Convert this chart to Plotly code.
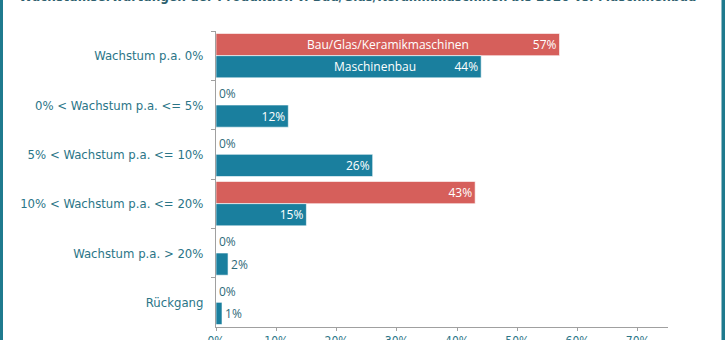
import plotly.graph_objects as go

# Growth expectation buckets (top to bottom)
categories = [
    "Wachstum p.a. 0%",
    "0% < Wachstum p.a. <= 5%",
    "5% < Wachstum p.a. <= 10%",
    "10% < Wachstum p.a. <= 20%",
    "Wachstum p.a. > 20%",
    "Rückgang",
]
series_names = ["Bau/Glas/Keramikmaschinen", "Maschinenbau"]
bau_glas_keramik = [57, 0, 0, 43, 0, 0]
maschinenbau = [44, 12, 26, 15, 2, 1]
x_ticks = [0, 10, 20, 30, 40, 50, 60, 70]
x_tick_labels = [f"{t}%" for t in x_ticks]
title_text = "Wachstumserwartungen der Produktion v. Bau/Glas/Keramikmaschinen bis 2020 vs. Maschinenbau"

RED = "#d65f5b"
TEAL = "#1a7f9e"
TEXT_TEAL = "#2b7587"
LABEL_DARK = "#2f6a79"
FRAME = "#1f7a8e"

W, H = 725, 340
ML, MR, MT, MB = 216, 57, 31, 13


def positions(values):
    return ["inside" if v >= 10 else "outside" for v in values]


def text_colors(values):
    return ["white" if v >= 10 else LABEL_DARK for v in values]


fig = go.Figure()
for name, vals, color in [(series_names[0], bau_glas_keramik, RED),
                          (series_names[1], maschinenbau, TEAL)]:
    fig.add_trace(go.Bar(
        name=name,
        y=categories,
        x=vals,
        orientation="h",
        marker=dict(color=color, line=dict(color="white", width=0.6)),
        text=[f"{v}%" for v in vals],
        textposition=positions(vals),
        insidetextanchor="end",
        constraintext="none",
        textfont=dict(family="Open Sans", size=12, color=text_colors(vals)),
        cliponaxis=False,
        hoverinfo="skip",
    ))

# Series names written into the bars of the first bucket
annotations = [
    dict(x=bau_glas_keramik[0] * 0.5, y=categories[0], yshift=11,
         xref="x", yref="y", text=series_names[0], showarrow=False,
         font=dict(family="Open Sans", size=12, color="white")),
    dict(x=maschinenbau[0] * 0.6, y=categories[0], yshift=-11,
         xref="x", yref="y", text=series_names[1], showarrow=False,
         font=dict(family="Open Sans", size=12, color="white")),
]

plot_h = H - MT - MB
plot_w = W - ML - MR
annotations.append(dict(
    x=(358 - ML) / plot_w, y=1 + (MT - 6) / plot_h, xref="paper", yref="paper",
    xanchor="center", yanchor="bottom", text=f"<b>{title_text}</b>",
    showarrow=False, font=dict(family="DejaVu Sans Condensed", size=13.5, color="#2e5f6e"),
))

# Teal frame strips on the left and right edges
shapes = [
    dict(type="rect", xref="paper", yref="paper",
         x0=-ML / plot_w, x1=(3 - ML) / plot_w, y0=-MB / plot_h, y1=1 + MT / plot_h,
         fillcolor=FRAME, line=dict(width=0), layer="above"),
    dict(type="rect", xref="paper", yref="paper",
         x0=(W - 3.5 - ML) / plot_w, x1=(W - ML) / plot_w, y0=-MB / plot_h, y1=1 + MT / plot_h,
         fillcolor=FRAME, line=dict(width=0), layer="above"),
]

fig.update_layout(
    width=W, height=H,
    margin=dict(l=ML, r=MR, t=MT, b=MB, pad=0, autoexpand=False),
    paper_bgcolor="white", plot_bgcolor="white",
    barmode="group", bargap=0.1, bargroupgap=0,
    showlegend=False,
    annotations=annotations,
    shapes=shapes,
    xaxis=dict(
        range=[0, 75], tickvals=x_ticks, ticktext=x_tick_labels,
        showgrid=False, zeroline=False, automargin=False,
        showline=True, linecolor="#a0a0a0", linewidth=1,
        ticks="outside", ticklen=3, tickcolor="#a0a0a0",
        tickfont=dict(family="DejaVu Sans Condensed", size=12, color=TEXT_TEAL),
    ),
    yaxis=dict(
        autorange="reversed", showgrid=False, zeroline=False, automargin=False,
        showline=True, linecolor="#a0a0a0", linewidth=1,
        ticks="outside", ticklen=4, tickcolor="#a0a0a0", tickson="boundaries",
        ticklabelstandoff=9,
        tickfont=dict(family="DejaVu Sans Condensed", size=13, color=TEXT_TEAL),
    ),
)

fig.write_html("out.html")
